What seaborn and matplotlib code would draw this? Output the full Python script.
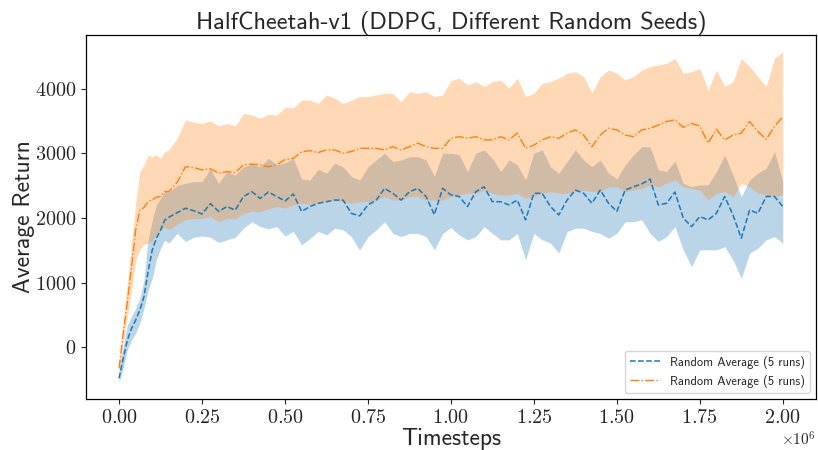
import numpy as np
import pandas as pd
import matplotlib
matplotlib.use("Agg")
import matplotlib.pyplot as plt
import seaborn as sns

# Timesteps in millions
timesteps_m = [0, 0.0125, 0.025, 0.0375, 0.05, 0.0625, 0.075, 0.0875, 0.1, 0.1125, 0.125, 0.1375, 0.15,
               0.175, 0.2, 0.225, 0.25, 0.275, 0.3, 0.325, 0.35, 0.375, 0.4, 0.425, 0.45, 0.475, 0.5,
               0.525, 0.55, 0.575, 0.6, 0.625, 0.65, 0.675, 0.7, 0.725, 0.75, 0.775, 0.8, 0.825, 0.85,
               0.875, 0.9, 0.925, 0.95, 0.975, 1.0, 1.025, 1.05, 1.075, 1.1, 1.125, 1.15, 1.175, 1.2,
               1.225, 1.25, 1.275, 1.3, 1.325, 1.35, 1.375, 1.4, 1.425, 1.45, 1.475, 1.5, 1.525, 1.55,
               1.575, 1.6, 1.625, 1.65, 1.675, 1.7, 1.725, 1.75, 1.775, 1.8, 1.825, 1.85, 1.875, 1.9,
               1.925, 1.95, 1.975, 2.0]

blue_mean = [-480, -170, 110, 290, 420, 575, 780, 1170, 1505, 1685, 1810, 1965, 2010,
             2080, 2150, 2110, 2060, 2220, 2100, 2175, 2120, 2330, 2405, 2300, 2400, 2330, 2260,
             2370, 2100, 2175, 2225, 2250, 2275, 2275, 2070, 2030, 2200, 2275, 2455, 2380, 2275,
             2405, 2455, 2330, 2050, 2455, 2355, 2330, 2175, 2405, 2480, 2250, 2250, 2200, 2275,
             1970, 2380, 2380, 2175, 2045, 2275, 2430, 2380, 2225, 2430, 2225, 2100, 2430, 2480,
             2525, 2600, 2200, 2225, 2400, 2000, 1865, 2020, 1970, 2070, 2330, 2045, 1685, 2120,
             2070, 2330, 2330, 2175]

blue_upper = [-350, 10, 345, 475, 600, 755, 1040, 1655, 1965, 2200, 2300, 2405, 2400,
              2500, 2535, 2560, 2560, 2760, 2530, 2715, 2660, 2790, 2830, 2790, 2920, 2820, 2850,
              2920, 2600, 2585, 2750, 2690, 2845, 2790, 2640, 2585, 2790, 2895, 3000, 2870, 2895,
              2945, 2945, 2895, 2640, 3000, 3000, 2975, 2715, 3000, 3050, 2920, 2715, 2895, 2820,
              2585, 3000, 3050, 2790, 2690, 2870, 3050, 2895, 2790, 2895, 2690, 2600, 2820, 2970,
              3100, 3100, 2740, 2715, 2880, 2535, 2480, 2510, 2510, 2715, 2970, 2665, 2330, 2585,
              2690, 2765, 3025, 2560]

blue_lower = [-545, -325, -40, 110, 215, 370, 600, 885, 1065, 1350, 1530, 1655, 1610,
              1760, 1635, 1700, 1720, 1700, 1620, 1660, 1700, 1840, 1940, 1865, 1830, 1865, 1720,
              1790, 1580, 1680, 1790, 1735, 1840, 1815, 1710, 1500, 1710, 1815, 1940, 1760, 1710,
              1760, 1760, 1710, 1505, 1760, 1850, 1735, 1660, 1710, 1865, 1760, 1660, 1660, 1760,
              1350, 1760, 1660, 1610, 1455, 1790, 1840, 1840, 1790, 1760, 1685, 1760, 1940, 1940,
              1970, 1760, 1635, 1710, 1865, 1505, 1245, 1505, 1505, 1505, 1555, 1350, 1065, 1455,
              1530, 1660, 1710, 1610]

orange_mean = [-325, 215, 705, 1245, 1810, 2120, 2160, 2250, 2280, 2320, 2330, 2405, 2405,
               2550, 2790, 2780, 2740, 2760, 2690, 2715, 2700, 2820, 2830, 2820, 2790, 2820, 2900,
               2920, 3020, 3040, 3010, 3050, 3050, 3000, 3025, 3075, 3075, 3075, 3050, 3100, 3050,
               3100, 3155, 3100, 3075, 3075, 3230, 3255, 3230, 3255, 3205, 3205, 3255, 3205, 3310,
               3075, 3125, 3205, 3255, 3230, 3310, 3360, 3280, 3100, 3280, 3385, 3360, 3280, 3255,
               3360, 3385, 3435, 3490, 3515, 3400, 3460, 3420, 3155, 3370, 3205, 3280, 3310, 3490,
               3335, 3215, 3410, 3565]

orange_upper = [-250, 370, 990, 1605, 2225, 2715, 2820, 2970, 2945, 2970, 2920, 3025, 3050,
                3230, 3515, 3480, 3460, 3500, 3420, 3460, 3420, 3615, 3590, 3540, 3600, 3590, 3710,
                3700, 3820, 3820, 3770, 3900, 3850, 3770, 3820, 3875, 3875, 3900, 3925, 3925, 3795,
                3950, 3925, 3950, 3875, 3900, 4120, 4160, 4055, 4105, 4030, 4105, 4130, 4005, 4160,
                3875, 3925, 4080, 4105, 4160, 4235, 4260, 4185, 3925, 4185, 4285, 4235, 4130, 4185,
                4285, 4340, 4365, 4390, 4465, 4235, 4260, 4310, 3975, 4285, 4030, 4105, 4465, 4340,
                4185, 4030, 4465, 4570]

orange_lower = [-375, 60, 475, 885, 1350, 1505, 1595, 1605, 1655, 1735, 1810, 1865, 1815,
                1900, 1970, 1990, 1990, 2020, 1940, 1995, 1980, 2070, 2100, 2095, 2140, 2175, 2150,
                2200, 2225, 2210, 2225, 2250, 2275, 2250, 2225, 2250, 2250, 2275, 2330, 2275, 2275,
                2330, 2330, 2275, 2275, 2275, 2330, 2355, 2380, 2380, 2430, 2380, 2355, 2355, 2380,
                2300, 2330, 2380, 2405, 2380, 2380, 2405, 2430, 2405, 2405, 2480, 2480, 2405, 2430,
                2455, 2510, 2480, 2535, 2585, 2480, 2455, 2430, 2275, 2380, 2405, 2330, 2535, 2480,
                2380, 2355, 2330, 2355]

series_labels = ["Random Average (5 runs)", "Random Average (5 runs)"]
title_text = "HalfCheetah-v1 (DDPG, Different Random Seeds)"

sns.set_style("ticks")
plt.rcParams["font.family"] = "cmr10"
plt.rcParams["mathtext.fontset"] = "cm"
plt.rcParams["axes.unicode_minus"] = False
plt.rcParams["axes.formatter.use_mathtext"] = True

c_blue, c_orange = sns.color_palette("tab10")[0], sns.color_palette("tab10")[1]

x = np.array(timesteps_m) * 1e6
fig = plt.figure(figsize=(8.18, 4.5), dpi=100)
ax = fig.add_axes([0.105, 0.1133, 0.8925, 0.8087])

ax.fill_between(x, blue_lower, blue_upper, color=c_blue, alpha=0.3, linewidth=0)
ax.fill_between(x, orange_lower, orange_upper, color=c_orange, alpha=0.3, linewidth=0)
sns.lineplot(x=x, y=blue_mean, ax=ax, color=c_blue, linestyle="--", linewidth=1.1,
             label=series_labels[0])
sns.lineplot(x=x, y=orange_mean, ax=ax, color=c_orange, linestyle="-.", linewidth=1.0,
             label=series_labels[1])

ax.set_title(title_text, fontsize=17.5, fontfamily="cmss10", pad=4)
ax.set_xlabel("Timesteps", fontsize=17, fontfamily="cmss10", labelpad=1)
ax.set_ylabel("Average Return", fontsize=17, fontfamily="cmss10", labelpad=0)
ax.tick_params(axis="both", labelsize=14.5, direction="out", length=3.5, width=0.8)
ax.xaxis.get_offset_text().set_fontsize(11)
for sp in ax.spines.values():
    sp.set_linewidth(0.9)
    sp.set_color("black")

leg = ax.legend(loc="lower right", prop={"family": "cmss10", "size": 9}, frameon=True,
                handlelength=2.4)

fig.savefig("out.png", dpi=100)
